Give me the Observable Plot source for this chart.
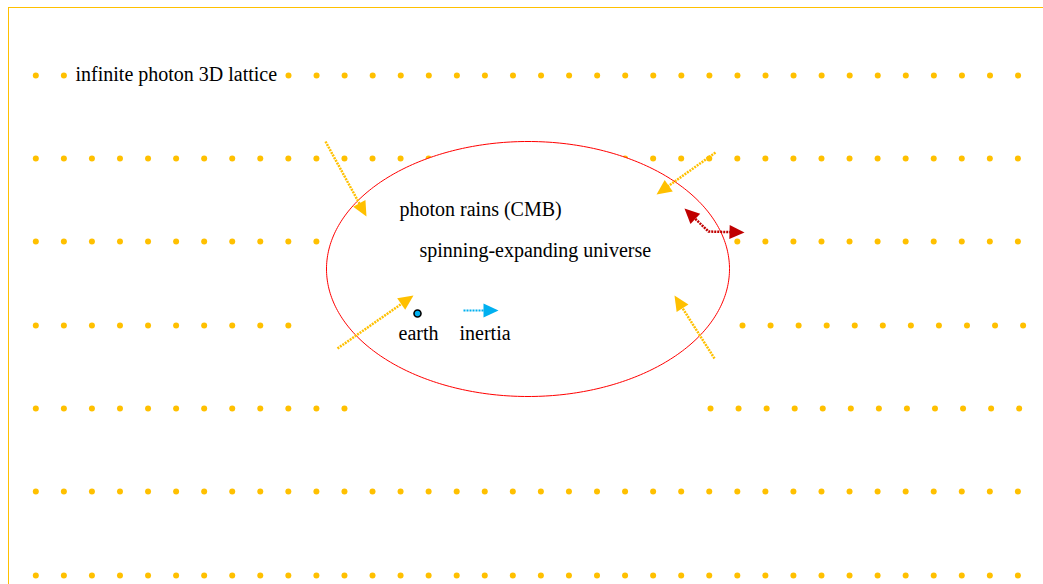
<!DOCTYPE html>
<html>
<head>
<meta charset="utf-8">
<script src="https://cdn.jsdelivr.net/npm/d3@7"></script>
<script src="https://cdn.jsdelivr.net/npm/@observablehq/plot@0.6"></script>
<style>
  html, body { margin: 0; padding: 0; background: #fff; }
  #chart svg { display: block; }
</style>
</head>
<body>
<div id="chart"></div>
<script>
// ---- Lattice of photons (dot rows) ----
const rowY = [75, 158, 241, 325, 408, 491, 575];
// each row: list of [startX, dotCount]
const rowSegments = [
  [[35.3, 2], [288, 27]],
  [[35.3, 36]],
  [[35.3, 36]],
  [[35.3, 10], [742, 11]],
  [[35.3, 12], [710, 12]],
  [[35.3, 36]],
  [[35.3, 36]]
];
const latticePitch = 28.06;

// ---- Universe ellipse ----
const ellipseCenter = [527.5, 268.5];
const ellipseRadii = [201.5, 127.5];

// ---- Arrows (diagram coordinates) ----
const arrowIds = ["rain1", "rain2", "rain3", "rain4", "spin", "inertia"];
const arrowPoints = [
  [[325, 141], [366, 216]],
  [[715, 152], [656, 194]],
  [[337, 348], [413, 295]],
  [[714, 358], [674, 295]],
  [[684, 208], [708, 231], [744, 232]],
  [[463, 310], [498, 310]]
];
const arrowColors = ["#FFC000", "#FFC000", "#FFC000", "#FFC000", "#C00000", "#00B0F0"];
const arrowBothEnds = [false, false, false, false, true, false];

// ---- Labels ----
const labelTexts = ["infinite photon 3D lattice", "photon rains (CMB)", "spinning-expanding universe", "earth", "inertia"];
const labelX = [75, 399, 419, 398, 459];
const labelY = [74, 209, 250, 333, 333];

// ---- Earth ----
const earthPos = [417, 313];

// build dots
const dots = [];
rowY.forEach((y, i) => {
  rowSegments[i].forEach(([x0, n]) => {
    for (let k = 0; k < n; k++) dots.push({x: x0 + k * latticePitch, y});
  });
});

// ellipse outline (geometry)
const ellipsePts = d3.range(0, 360, 1).map(a => {
  const t = a * Math.PI / 180;
  return {x: ellipseCenter[0] + ellipseRadii[0] * Math.cos(t), y: ellipseCenter[1] + ellipseRadii[1] * Math.sin(t)};
});

// arrow heads (geometry)
const HEAD_LEN = 15, HEAD_HALF = 7;
function headAt(tip, from) {
  const dx = tip[0] - from[0], dy = tip[1] - from[1];
  const L = Math.hypot(dx, dy), ux = dx / L, uy = dy / L;
  const bx = tip[0] - ux * HEAD_LEN, by = tip[1] - uy * HEAD_LEN;
  return {
    tri: [
      {x: tip[0], y: tip[1]},
      {x: bx - uy * HEAD_HALF, y: by + ux * HEAD_HALF},
      {x: bx + uy * HEAD_HALF, y: by - ux * HEAD_HALF}
    ],
    base: [tip[0] - ux * HEAD_LEN * 0.8, tip[1] - uy * HEAD_LEN * 0.8]
  };
}

const arrowMarks = [];
arrowIds.forEach((id, i) => {
  const pts = arrowPoints[i].map(p => p.slice());
  const n = pts.length;
  const heads = [];
  const hEnd = headAt(pts[n - 1], pts[n - 2]);
  heads.push(hEnd.tri);
  pts[n - 1] = hEnd.base;
  if (arrowBothEnds[i]) {
    const hStart = headAt(arrowPoints[i][0], arrowPoints[i][1]);
    heads.push(hStart.tri);
    pts[0] = hStart.base;
  }
  arrowMarks.push(Plot.line(pts.map(p => ({x: p[0], y: p[1]})), {
    x: "x", y: "y", stroke: arrowColors[i], strokeWidth: i === 5 ? 2 : 2.5,
    strokeDasharray: "2,1", strokeLinecap: "butt"
  }));
  heads.forEach(tri => {
    arrowMarks.push(Plot.line(tri, {x: "x", y: "y", fill: arrowColors[i], stroke: "none", curve: "linear-closed"}));
  });
});

const labels = labelTexts.map((t, i) => ({t, x: labelX[i], y: labelY[i]}));

const chart = Plot.plot({
  width: 1043,
  height: 584,
  margin: 0,
  x: {domain: [0, 1043], range: [0, 1043], axis: null},
  y: {domain: [0, 584], range: [0, 584], axis: null},
  style: {background: "#fff"},
  marks: [
    Plot.ruleX([8], {y1: 7, y2: 584, stroke: "#FFC000", strokeWidth: 1}),
    Plot.ruleY([7], {x1: 8, x2: 1043, stroke: "#FFC000", strokeWidth: 1}),
    Plot.dot(dots, {x: "x", y: "y", r: 3, fill: "#FFC000", stroke: "none"}),
    Plot.line(ellipsePts, {x: "x", y: "y", curve: "linear-closed", fill: "white", stroke: "#FF0000", strokeWidth: 1}),
    ...arrowMarks,
    Plot.dot([earthPos], {x: d => d[0], y: d => d[1], r: 3.5, fill: "#00B0F0", stroke: "#000", strokeWidth: 1.6}),
    Plot.text(labels, {x: "x", y: "y", text: "t", textAnchor: "start", fontSize: 20, fontFamily: "Liberation Serif", fill: "#000"})
  ]
});
document.getElementById("chart").append(chart);
</script>
</body>
</html>
